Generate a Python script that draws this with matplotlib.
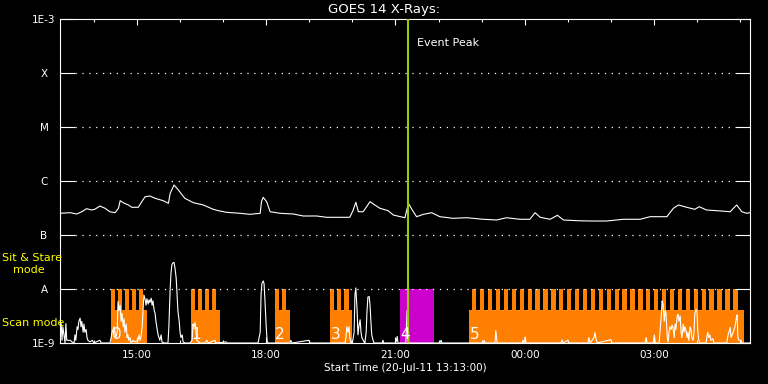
import numpy as np
import matplotlib
matplotlib.use("Agg")
import matplotlib.pyplot as plt
import matplotlib.transforms as mtransforms

# ---------------- data ----------------
# GOES 14 X-ray flux (hours since 20-Jul-11 00:00, log10 flux W/m^2)
xray_hours = [13.21, 13.45, 13.60, 13.72, 13.83, 13.95, 14.02, 14.14, 14.26, 14.37,
              14.49, 14.57, 14.61, 14.68, 14.80, 14.88, 15.03, 15.11, 15.19, 15.30,
              15.42, 15.61, 15.73, 15.77, 15.86, 15.96, 16.11, 16.31, 16.54, 16.77,
              16.89, 17.08, 17.39, 17.62, 17.86, 17.89, 17.93, 18.01, 18.09, 18.32,
              18.63, 18.86, 19.17, 19.40, 19.94, 20.02, 20.08, 20.14, 20.25, 20.41,
              20.52, 20.64, 20.83, 20.95, 21.22, 21.30, 21.38, 21.49, 21.65, 21.84,
              22.03, 22.34, 22.65, 23.04, 23.35, 23.58, 23.89, 24.12, 24.24, 24.36,
              24.59, 24.76, 24.90, 25.21, 25.52, 25.90, 26.29, 26.68, 26.91, 27.30,
              27.45, 27.57, 27.76, 27.95, 28.05, 28.22, 28.46, 28.77, 28.92, 29.04,
              29.15, 29.23]
xray_log_flux = [-6.598, -6.587, -6.611, -6.569, -6.513, -6.537, -6.524, -6.463, -6.506, -6.569,
                 -6.587, -6.506, -6.365, -6.402, -6.444, -6.487, -6.487, -6.383, -6.291, -6.278,
                 -6.320, -6.365, -6.413, -6.228, -6.074, -6.167, -6.320, -6.402, -6.444, -6.524,
                 -6.550, -6.580, -6.598, -6.617, -6.598, -6.383, -6.302, -6.383, -6.569, -6.598,
                 -6.611, -6.648, -6.648, -6.672, -6.672, -6.537, -6.394, -6.569, -6.569, -6.383,
                 -6.444, -6.506, -6.550, -6.630, -6.680, -6.413, -6.524, -6.661, -6.617, -6.587,
                 -6.661, -6.691, -6.680, -6.709, -6.722, -6.680, -6.709, -6.709, -6.587, -6.672,
                 -6.709, -6.635, -6.722, -6.735, -6.741, -6.741, -6.709, -6.709, -6.661, -6.661,
                 -6.506, -6.444, -6.487, -6.524, -6.476, -6.537, -6.550, -6.569, -6.444, -6.569,
                 -6.598, -6.587]

# lower-band trace (decades above 1E-9)
trace_hours = [13.21, 13.24, 13.26, 13.28, 13.33, 13.35, 13.37, 13.45, 13.49, 13.54, 13.56, 13.58,
               13.61, 13.63, 13.65, 13.68, 13.70, 13.72, 13.75, 13.77, 13.79, 13.82, 13.84, 13.86,
               13.91, 13.96, 14.00, 14.14, 14.17, 14.37, 14.40, 14.42, 14.47, 14.51, 14.54, 14.56,
               14.58, 14.61, 14.63, 14.65, 14.68, 14.70, 14.72, 14.75, 14.77, 14.79, 14.81, 14.84,
               14.86, 14.91, 14.95, 15.02, 15.05, 15.07, 15.09, 15.12, 15.14, 15.16, 15.19, 15.21,
               15.23, 15.26, 15.28, 15.30, 15.33, 15.35, 15.37, 15.40, 15.42, 15.44, 15.46, 15.49,
               15.51, 15.53, 15.56, 15.58, 15.63, 15.72, 15.74, 15.77, 15.79, 15.81, 15.84, 15.86,
               15.88, 15.91, 15.93, 15.95, 15.98, 16.00, 16.02, 16.05, 16.07, 16.11, 16.23, 16.28,
               16.30, 16.32, 16.35, 16.37, 16.39, 16.46, 16.58, 16.62, 16.65, 16.81, 16.83, 17.07,
               17.09, 17.81, 17.86, 17.88, 17.90, 17.93, 17.95, 17.97, 18.00, 18.02, 18.04, 18.55,
               18.57, 18.60, 18.99, 19.02, 19.83, 19.85, 19.87, 19.90, 19.92, 19.94, 19.97, 20.01,
               20.04, 20.06, 20.08, 20.11, 20.13, 20.15, 20.18, 20.20, 20.22, 20.25, 20.27, 20.29,
               20.32, 20.34, 20.36, 20.39, 20.41, 20.43, 20.45, 20.48, 20.50, 20.69, 20.71, 20.73,
               21.01, 21.04, 21.06, 21.24, 21.27, 21.29, 21.31, 22.03, 22.06, 22.08, 23.03, 23.06,
               23.08, 23.31, 23.33, 23.36, 23.94, 23.96, 23.98, 24.01, 24.03, 24.84, 24.87, 24.89,
               25.00, 25.03, 25.47, 25.49, 25.52, 25.61, 25.63, 25.65, 25.68, 26.00, 26.03, 26.79,
               26.82, 26.84, 26.98, 27.01, 27.03, 27.12, 27.14, 27.17, 27.19, 27.21, 27.24, 27.26,
               27.28, 27.31, 27.33, 27.35, 27.37, 27.40, 27.42, 27.44, 27.47, 27.49, 27.51, 27.54,
               27.56, 27.58, 27.61, 27.63, 27.65, 27.68, 27.70, 27.72, 27.74, 27.77, 27.79, 27.81,
               27.84, 27.86, 27.88, 27.91, 27.93, 27.95, 27.98, 28.00, 28.02, 28.04, 28.07, 28.21,
               28.23, 28.25, 28.27, 28.30, 28.32, 28.37, 28.39, 28.69, 28.72, 28.74, 28.77, 28.79,
               28.84, 28.88, 28.91, 28.93, 28.95, 28.97, 29.02, 29.04, 29.23]
trace_level = [0.10, 0.36, 0.05, 0.30, 0.0, 0.36, 0.05, 0.05, 0.02, 0.0, 0.15, 0.05,
               0.30, 0.25, 0.40, 0.46, 0.30, 0.40, 0.20, 0.35, 0.20, 0.25, 0.10, 0.05,
               0.02, 0.05, 0.0, 0.05, 0.0, 0.0, 0.10, 0.20, 0.30, 0.10, 0.20, 0.77,
               0.60, 0.70, 0.40, 0.55, 0.30, 0.45, 0.20, 0.35, 0.10, 0.15, 0.05, 0.10,
               0.0, 0.05, 0.02, 0.05, 0.15, 0.05, 0.10, 0.30, 0.60, 0.89, 0.80, 0.70,
               0.82, 0.72, 0.80, 0.75, 0.83, 0.70, 0.78, 0.60, 0.55, 0.40, 0.30, 0.15,
               0.10, 0.05, 0.15, 0.02, 0.0, 0.0, 0.30, 1.00, 1.30, 1.45, 1.49, 1.49,
               1.40, 1.20, 0.90, 0.60, 0.40, 0.20, 0.10, 0.15, 0.02, 0.0, 0.0, 0.05,
               0.35, 0.30, 0.38, 0.20, 0.05, 0.0, 0.0, 0.05, 0.0, 0.05, 0.0, 0.02,
               0.0, 0.0, 0.20, 0.90, 1.10, 1.15, 1.10, 0.80, 0.30, 0.05, 0.0, 0.0,
               0.05, 0.0, 0.05, 0.0, 0.0, 0.10, 0.30, 0.20, 0.30, 0.10, 0.0, 0.05,
               0.20, 0.90, 1.02, 0.60, 0.15, 0.30, 0.43, 0.20, 0.10, 0.05, 0.02, 0.0,
               0.20, 0.60, 0.85, 0.86, 0.70, 0.40, 0.15, 0.05, 0.0, 0.0, 0.05, 0.0,
               0.0, 0.12, 0.0, 0.0, 0.60, 0.60, 0.0, 0.0, 0.05, 0.0, 0.0, 0.05,
               0.0, 0.0, 0.23, 0.0, 0.0, 0.05, 0.0, 0.11, 0.0, 0.0, 0.06, 0.0,
               0.05, 0.0, 0.0, 0.10, 0.0, 0.10, 0.19, 0.10, 0.0, 0.06, 0.0, 0.0,
               0.10, 0.0, 0.0, 0.15, 0.0, 0.0, 0.20, 0.50, 0.78, 0.72, 0.40, 0.60,
               0.55, 0.10, 0.02, 0.20, 0.30, 0.25, 0.33, 0.30, 0.10, 0.35, 0.25, 0.50,
               0.53, 0.40, 0.50, 0.20, 0.10, 0.35, 0.20, 0.30, 0.25, 0.10, 0.20, 0.05,
               0.30, 0.25, 0.10, 0.05, 0.20, 0.55, 0.62, 0.58, 0.20, 0.05, 0.0, 0.0,
               0.12, 0.20, 0.10, 0.15, 0.05, 0.08, 0.0, 0.0, 0.15, 0.20, 0.29, 0.10,
               0.20, 0.30, 0.45, 0.52, 0.10, 0.05, 0.05, 0.0, 0.0]

# observing blocks
scan_labels = ["0", "1", "2", "3", "5"]
scan_start = [14.40, 16.25, 18.20, 19.48, 22.71]
scan_end = [15.23, 16.93, 18.55, 19.99, 29.09]
raster_first = [14.40, 16.25, 18.20, 19.48, 22.78]
raster_last = [15.05, 16.74, 18.37, 19.81, 28.84]
raster_count = [5, 4, 2, 3, 34]
sitstare_label = "4"
sitstare_start = 21.10
sitstare_end = 21.89
event_peak = 21.29

x_start, x_end = 13.213, 29.23
x_major = [15, 18, 21, 24, 27]
x_major_labels = ["15:00", "18:00", "21:00", "00:00", "03:00"]
x_minor = list(range(14, 30))
y_levels = [1e-9, 1e-8, 1e-7, 1e-6, 1e-5, 1e-4, 1e-3]
y_labels = ["1E-9", "A", "B", "C", "M", "X", "1E-3"]

scan_top = 10 ** (-9 + 0.611)
sit_top = 1e-8

# ---------------- plot ----------------
ORANGE = "#ff8000"
MAGENTA = "#cc00cc"
GREEN = "#99cc00"
YELLOW = "#ffff00"
FS = 7.5

fig = plt.figure(figsize=(7.68, 3.84), dpi=100, facecolor="black")
ax = fig.add_axes([60 / 768, 41 / 384, 690 / 768, 324 / 384])
ax.set_facecolor("black")
ax.set_yscale("log")
ax.set_xlim(x_start, x_end)
ax.set_ylim(1e-9, 1e-3)

# scan blocks
for s, e in zip(scan_start, scan_end):
    ax.bar(s, scan_top - 1e-9, bottom=1e-9, width=e - s, align="edge",
           color=ORANGE, lw=0, zorder=1)
for f, l, n in zip(raster_first, raster_last, raster_count):
    xs = np.linspace(f, l, n)
    ax.bar(xs, [sit_top - 1e-9] * n, bottom=1e-9, width=0.1, align="edge",
           color=ORANGE, lw=0, zorder=1)
ax.bar(sitstare_start, sit_top - 1e-9, bottom=1e-9, width=sitstare_end - sitstare_start,
       align="edge", color=MAGENTA, lw=0, zorder=1)

# dotted level lines
for lv in y_levels[1:-1]:
    ax.axhline(lv, xmin=15 / 690, xmax=1 - 15 / 690, color="white", lw=0.9,
               linestyle=(0, (1, 4.5)), zorder=3)

# traces
ax.plot(trace_hours, 1e-9 * 10 ** np.array(trace_level), color="white", lw=0.8, zorder=4)
ax.plot(xray_hours, 10 ** np.array(xray_log_flux), color="white", lw=0.8, zorder=4)

ax.axvline(event_peak, color=GREEN, lw=1.5, zorder=5)

trans = mtransforms.blended_transform_factory(ax.transData, ax.transAxes)
for lab, s in zip(scan_labels, scan_start):
    ax.text(s + 0.01, 0.012, lab, transform=trans, color="white", fontsize=11,
            ha="left", va="baseline", zorder=6)
ax.text(sitstare_start + 0.01, 0.012, sitstare_label, transform=trans, color="white",
        fontsize=11, ha="left", va="baseline", zorder=6)
ax.text(event_peak + 0.22, 0.926, "Event Peak", transform=trans, color="white",
        fontsize=8, ha="left", va="center")

# axes styling
for sp in ax.spines.values():
    sp.set_color("white")
    sp.set_linewidth(0.8)
ax.set_xticks(x_major)
ax.set_xticklabels(x_major_labels)
ax.set_xticks(x_minor, minor=True)
ax.set_yticks(y_levels)
ax.set_yticklabels(y_labels)
ax.yaxis.set_minor_locator(matplotlib.ticker.NullLocator())
ax.tick_params(axis="x", which="major", direction="in", length=4.5, width=0.8,
               color="white", labelcolor="white", labelsize=FS, top=True, bottom=True, pad=5)
ax.tick_params(axis="x", which="minor", direction="in", length=2.3, width=0.8,
               color="white", top=True, bottom=True)
ax.tick_params(axis="y", which="major", direction="in", length=10.8, width=0.8,
               color="white", labelcolor="white", labelsize=FS, left=True, right=True, pad=11.5)
for t in ax.get_yticklabels():
    t.set_horizontalalignment("center")

fig.text(384 / 768, 1 - 9 / 384, "GOES 14 X-Rays:", color="white", fontsize=9.5,
         ha="center", va="center")
fig.text(405 / 768, 1 - 368 / 384, "Start Time (20-Jul-11 13:13:00)", color="white",
         fontsize=FS, ha="center", va="center")
fig.text(2 / 768, 1 - 258 / 384, "Sit & Stare", color=YELLOW, fontsize=8,
         ha="left", va="center")
fig.text(13 / 768, 1 - 270 / 384, "mode", color=YELLOW, fontsize=8,
         ha="left", va="center")
fig.text(2 / 768, 1 - 323 / 384, "Scan mode", color=YELLOW, fontsize=8,
         ha="left", va="center")

fig.savefig("out.png", dpi=100, facecolor="black")
